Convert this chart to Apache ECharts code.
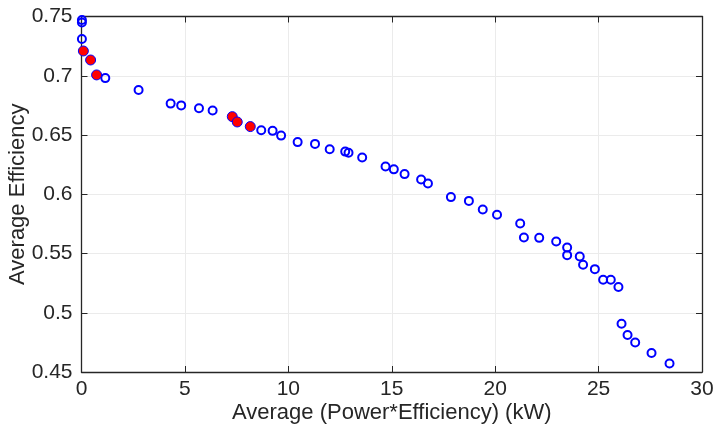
<!DOCTYPE html>
<html><head><meta charset="utf-8">
<script src="https://cdn.jsdelivr.net/npm/echarts@6/dist/echarts.min.js"></script>
<style>html,body{margin:0;padding:0;background:#fff}#c{width:715px;height:437px}</style>
</head><body><div id="c"></div>
<script>
const blueX = [0.02,0.02,0.02,1.15,2.76,4.31,4.82,5.68,6.34,8.69,9.24,9.65,10.45,11.29,12.0,12.75,12.91,13.57,14.7,15.1,15.62,16.42,16.75,17.86,18.73,19.4,20.09,21.21,21.39,22.13,22.95,23.48,23.48,24.09,24.25,24.82,25.22,25.59,25.96,26.11,26.4,26.77,27.56,28.43];
const blueY = [0.747,0.745,0.731,0.698,0.688,0.6765,0.675,0.6726,0.6706,0.654,0.6535,0.6495,0.644,0.6425,0.638,0.636,0.635,0.631,0.6234,0.621,0.617,0.6124,0.609,0.5976,0.5944,0.5871,0.5827,0.5753,0.5635,0.5632,0.5601,0.555,0.5486,0.5475,0.5405,0.5368,0.5278,0.5278,0.5217,0.4907,0.4812,0.4749,0.466,0.4572];
const redX = [0.09,0.44,0.73,7.29,7.53,8.16];
const redY = [0.7209,0.7133,0.7007,0.6655,0.661,0.6571];
const xTicks = [0,5,10,15,20,25,30];
const yTicks = [0.45,0.5,0.55,0.6,0.65,0.7,0.75];
const xName = 'Average (Power*Efficiency) (kW)';
const yName = 'Average Efficiency';

const F = 'Liberation Sans, Arial, sans-serif';
const TC = '#262626';
const chart = echarts.init(document.getElementById('c'), null, {renderer:'canvas'});
const axisCommon = {
  axisLine:{show:true,onZero:false,lineStyle:{color:TC,width:1.3}},
  axisTick:{show:true,inside:true,length:6,lineStyle:{color:TC,width:1}},
  splitLine:{show:false}
};
chart.setOption({
  animation:false,
  grid:{left:81.5,right:13,top:16.5,bottom:65,containLabel:false,outerBoundsMode:'none'},
  xAxis:[
    Object.assign({type:'value',min:xTicks[0],max:xTicks[xTicks.length-1],interval:5,position:'bottom',
      name:xName,nameLocation:'middle',nameGap:30,nameMoveOverlap:false,
      nameTextStyle:{fontFamily:F,fontSize:22,color:TC},
      axisLabel:{fontFamily:F,fontSize:21,color:TC,margin:7,formatter:v=>String(v)},
      },axisCommon,{splitLine:{show:true,lineStyle:{color:'#ebebeb',width:1}}}),
    Object.assign({type:'value',min:0,max:30,interval:5,position:'top',axisLabel:{show:false}},axisCommon)
  ],
  yAxis:[
    Object.assign({type:'value',min:yTicks[0],max:yTicks[yTicks.length-1],interval:0.05,position:'left',
      name:yName,nameLocation:'middle',nameGap:53,nameMoveOverlap:false,
      nameTextStyle:{fontFamily:F,fontSize:22,color:TC},
      axisLabel:{fontFamily:F,fontSize:21,color:TC,margin:9,formatter:v=>String(+v.toFixed(2))},
      },axisCommon,{splitLine:{show:true,lineStyle:{color:'#ebebeb',width:1}}}),
    Object.assign({type:'value',min:0.45,max:0.75,interval:0.05,position:'right',axisLabel:{show:false}},axisCommon)
  ],
  series:[
    {type:'scatter',symbol:'circle',symbolSize:8,data:blueX.map((x,i)=>[x,blueY[i]]),
     itemStyle:{color:'rgba(0,0,0,0)',borderColor:'#0000ff',borderWidth:2,opacity:1},z:3},
    {type:'scatter',symbol:'circle',symbolSize:10,data:redX.map((x,i)=>[x,redY[i]]),
     itemStyle:{color:'#ff0000',borderColor:'#0000ff',borderWidth:1,opacity:1},z:4}
  ]
});
</script></body></html>
